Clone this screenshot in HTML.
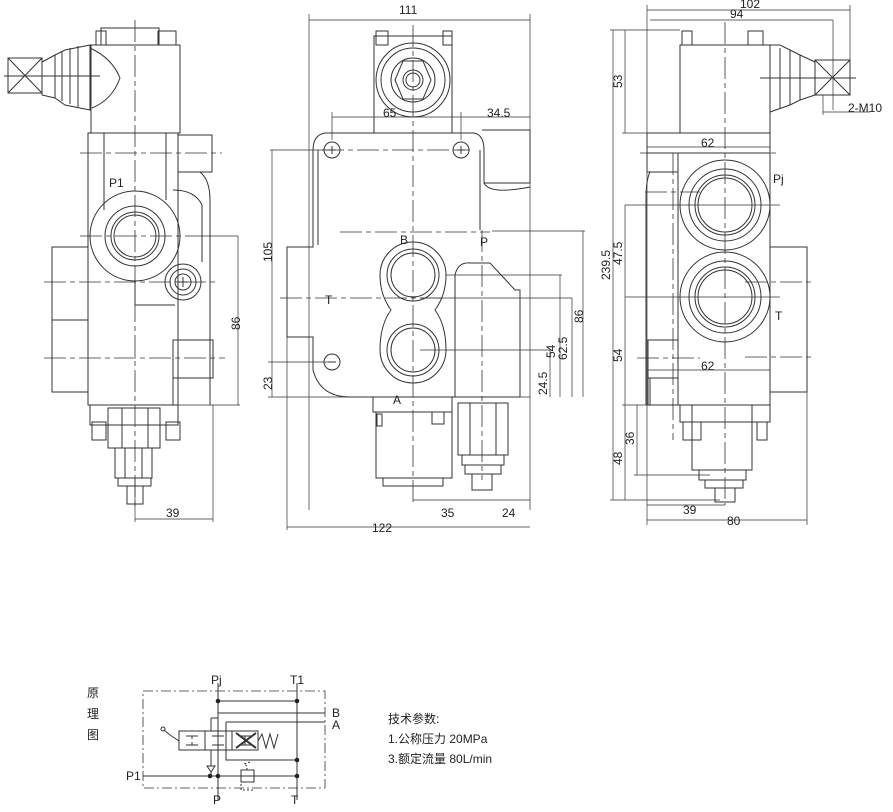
<!DOCTYPE html>
<html><head><meta charset="utf-8"><style>
html,body{margin:0;padding:0;background:#fff}
svg{display:block}
text{font-family:"Liberation Sans","Noto Sans CJK SC",sans-serif;fill:#222}
</style></head><body>
<svg width="893" height="812" viewBox="0 0 893 812" xmlns="http://www.w3.org/2000/svg">
<g fill="none" stroke="#333" stroke-width="1">
<!-- LEFT VIEW -->
<rect x="96" y="31" width="10" height="14"/><rect x="158" y="31" width="18" height="14"/>
<rect x="101" y="28" width="58" height="17"/>
<rect x="91" y="45" width="89" height="88"/>
<path d="M90 48 Q112 58 120 78 Q112 100 92 108"/>
<path d="M42 62 L55 55 L65 50 L90 45 L90 110 L65 105 L55 98 L42 95 Z"/>
<path d="M55 55 L55 98 M62 52 L62 101 M70 48 L70 104 M78 46 L78 107"/>
<rect x="8" y="58" width="34" height="35"/>
<path d="M8 58 L42 93 M42 58 L8 93 M4 76 L100 76"/>
<rect x="88" y="133" width="90" height="272"/>
<path d="M104 133 V210 M166 133 V200"/>
<path d="M178 135 H212 V172 H178"/>
<path d="M182 172 H200 Q210 180 210 200 V405"/>
<path d="M173 190 Q195 190 202 205 V262"/>
<circle cx="135" cy="236" r="45"/>
<circle cx="135" cy="236" r="30"/><circle cx="135" cy="236" r="24"/><circle cx="135" cy="236" r="21"/>
<path d="M135 281 V305 H175"/>
<circle cx="183" cy="282" r="18"/><circle cx="183" cy="282" r="13"/><circle cx="183" cy="282" r="8"/>
<path d="M178 282 H188 M183 277 V287"/>
<rect x="52" y="247" width="36" height="145"/><path d="M52 320 H88"/>
<rect x="173" y="340" width="40" height="38"/><path d="M173 378 V405 M210 378 V405"/>
<rect x="90" y="405" width="88" height="20"/>
<rect x="92" y="422" width="14" height="18"/><rect x="166" y="422" width="14" height="18"/>
<rect x="108" y="408" width="52" height="40"/><path d="M122 408 V448 M148 408 V448"/>
<rect x="115" y="448" width="37" height="30"/><path d="M125 448 V478 M142 448 V478"/>
<rect x="118" y="478" width="33" height="8"/>
<rect x="127" y="486" width="16" height="18"/>
<!-- centre lines left -->
<g stroke-dasharray="22,4,5,4" stroke-width="0.8">
<path d="M135 20 V510"/><path d="M80 153 H222"/><path d="M80 236 H190"/><path d="M44 282 H215"/><path d="M44 358 H225"/>
</g>
<!-- dims left -->
<g stroke-width="0.7"><path d="M190 236 H238 M238 236 V405 M178 405 H240 M213 405 V522 M135 519 H213 M135 478 V522"/></g>

<!-- MIDDLE VIEW -->
<rect x="376" y="31" width="12" height="14"/><rect x="443" y="31" width="9" height="14"/>
<rect x="374" y="36" width="78" height="97"/>
<circle cx="413" cy="80" r="37"/><circle cx="413" cy="80" r="32"/><circle cx="413" cy="80" r="22"/>
<path d="M403 61 H423 L431 80 L423 99 H403 L395 80 Z"/>
<circle cx="413" cy="80" r="10"/><circle cx="413" cy="80" r="7"/>
<path d="M325 133 H474 Q484 135 484 150 V183 H530 V130 H482"/>
<path d="M484 183 Q490 195 530 187"/>
<path d="M325 133 Q313 135 313 150 V247 H287 V337 H313 V370 Q320 397 350 397 H520"/>
<path d="M318 150 V245 M480 150 V230"/>
<path d="M455 397 V275 Q458 262 470 263 H490 L515 290 H520 V397"/>
<circle cx="332" cy="150" r="8"/><circle cx="461" cy="150" r="8"/><circle cx="332" cy="362" r="8"/>
<path d="M328 150 H336 M332 146 V154 M457 150 H465 M461 146 V154 M328 362 H336"/>
<path d="M380 275 A33 33 0 0 1 446 275 Q446 295 435 310 Q446 325 446 350 A33 33 0 0 1 380 350 Q380 325 391 310 Q380 295 380 275 Z"/>
<circle cx="413" cy="275" r="26"/><circle cx="413" cy="275" r="22"/>
<circle cx="413" cy="350" r="26"/><circle cx="413" cy="350" r="22"/>
<rect x="373" y="397" width="79" height="15"/>
<rect x="376" y="412" width="76" height="66"/><rect x="383" y="478" width="60" height="8"/>
<rect x="432" y="412" width="12" height="12"/><rect x="377" y="414" width="5" height="12"/>
<rect x="458" y="403" width="50" height="52"/><path d="M470 403 V455 M496 403 V455"/>
<rect x="462" y="455" width="42" height="10"/><rect x="465" y="465" width="36" height="9"/>
<rect x="472" y="474" width="20" height="16"/>
<g stroke-dasharray="22,4,5,4" stroke-width="0.8">
<path d="M413 25 V505"/><path d="M322 150 H470"/><path d="M340 232 H490"/><path d="M280 298 H445"/><path d="M482 230 V480"/>
</g>
<g stroke-width="0.7">
<path d="M309 14 V510 M530 14 V510 M309 20 H530 M332 112 V140 M461 112 V140 M332 117 H530 M287 337 V530 M287 527 H530 M413 500 H530"/>
<path d="M270 150 H330 M272 150 V397 M268 362 H330 M268 397 H530"/>
<path d="M446 275 H562 M420 298 H572 M560 275 V397 M572 298 V397 M492 231 H585 M583 231 V397 M420 350 H552 M550 350 V397"/>
</g>

<!-- RIGHT VIEW -->
<rect x="682" y="31" width="10" height="14"/><rect x="748" y="31" width="15" height="14"/>
<rect x="680" y="45" width="90" height="88"/>
<path d="M770 45 H780 L790 50 L800 55 L815 62 L815 95 L800 100 L790 105 L770 112 Z"/>
<path d="M780 48 V108 M790 50 V105 M800 55 V100"/>
<rect x="815" y="60" width="35" height="35"/>
<path d="M815 60 L850 95 M850 60 L815 95 M760 78 H856"/>
<rect x="647" y="133" width="123" height="20"/>
<path d="M647 153 V172 H678 M650 172 Q646 180 646 200 V405"/>
<rect x="678" y="153" width="92" height="252"/>
<circle cx="725" cy="205" r="45"/><circle cx="725" cy="205" r="36"/><circle cx="725" cy="205" r="30"/><circle cx="725" cy="205" r="27"/>
<circle cx="725" cy="297" r="45"/><circle cx="725" cy="297" r="36"/><circle cx="725" cy="297" r="30"/><circle cx="725" cy="297" r="27"/>
<rect x="770" y="247" width="37" height="145"/>
<rect x="648" y="340" width="30" height="65"/><path d="M648 378 H678 M650 378 V405"/>
<rect x="680" y="405" width="90" height="17"/>
<rect x="683" y="422" width="18" height="18"/><rect x="757" y="422" width="10" height="18"/>
<rect x="692" y="405" width="60" height="65"/>
<rect x="699" y="470" width="47" height="10"/><rect x="705" y="480" width="38" height="8"/>
<rect x="715" y="488" width="20" height="14"/>
<g stroke-dasharray="22,4,5,4" stroke-width="0.8">
<path d="M725 22 V505"/><path d="M640 153 H780"/><path d="M645 192 H700"/><path d="M745 282 H815"/><path d="M745 357 H815"/><path d="M637 358 H700"/><path d="M673 153 V440"/>
</g>
<g stroke-width="0.7">
<path d="M647 5 V525 M850 5 V60 M647 10 H850 M833 20 V110 M650 20 H833 M613 30 V500 M610 30 H680 M625 30 V133 M622 133 H680 M625 205 H780 M625 297 H780 M625 205 V500 M622 405 H690 M637 405 V475 M634 475 H710 M610 500 H720 M647 147 H770 M647 370 H770 M647 505 H725 M647 520 H807 M807 392 V525 M823 95 V115 M823 112 H870"/>
</g>

<!-- SCHEMATIC -->
<rect x="143" y="691" width="182" height="97" stroke-dasharray="10,3,2,3" stroke-width="0.8"/>
<path d="M218 683 V800 M297 683 V800"/>
<path d="M218 701 H297 M218 713 H325 M226 722 H325 M226 722 V760 H297 M143 776 H297"/>
<path d="M211 718 H218 M211 718 V731 M211 750 V766 M207 766 L211 772 L215 766 Z M211 772 V776"/>
<rect x="179" y="731" width="79" height="19"/><path d="M205 731 V750 M232 731 V750"/>
<path d="M186 736 H198 M192 736 V739 M186 745 H198 M192 745 V742 M212 736 H224 M218 736 V739 M212 745 H224 M218 745 V742 M239 736 H251 M245 736 V739 M239 745 H251 M245 745 V742"/>
<path d="M236 733 L256 748 M256 733 L236 748" stroke-width="2"/>
<path d="M258 741 L262 734 L266 748 L270 734 L274 748 L278 734"/>
<path d="M179 741 L170 735 L164 730"/><circle cx="163" cy="729" r="2"/>
<rect x="241" y="770" width="13" height="12"/><path d="M247 770 V766 L244 764 L250 762 M241 784 V790 H254" stroke-dasharray="2,2"/>
</g>
<g fill="#222">
<circle cx="218" cy="701" r="2.3"/><circle cx="297" cy="701" r="2.3"/><circle cx="297" cy="760" r="2.3"/>
<circle cx="210" cy="776" r="2.3"/><circle cx="218" cy="776" r="2.3"/><circle cx="297" cy="776" r="2.3"/>
</g>

<!-- TEXT -->
<g font-size="12">
<text x="109" y="187">P1</text>
<text x="400" y="244">B</text>
<text x="480" y="246">P</text>
<text x="325" y="304">T</text>
<text x="393" y="404">A</text>
<text x="773" y="183">Pj</text>
<text x="775" y="320">T</text>
<text x="399" y="14">111</text>
<text x="383" y="117">65</text>
<text x="487" y="117">34.5</text>
<text x="372" y="532">122</text>
<text x="441" y="517">35</text>
<text x="502" y="517">24</text>
<text x="166" y="517">39</text>
<text x="740" y="8">102</text>
<text x="730" y="18">94</text>
<text x="701" y="147">62</text>
<text x="701" y="370">62</text>
<text x="683" y="514">39</text>
<text x="727" y="525">80</text>
<text x="848" y="112">2-M10</text>
<text transform="translate(240 330) rotate(-90)">86</text>
<text transform="translate(272 262) rotate(-90)">105</text>
<text transform="translate(272 390) rotate(-90)">23</text>
<text transform="translate(555 358) rotate(-90)">54</text>
<text transform="translate(567 360) rotate(-90)">62.5</text>
<text transform="translate(583 323) rotate(-90)">86</text>
<text transform="translate(547 395) rotate(-90)">24.5</text>
<text transform="translate(610 280) rotate(-90)">239.5</text>
<text transform="translate(622 88) rotate(-90)">53</text>
<text transform="translate(622 265) rotate(-90)">47.5</text>
<text transform="translate(622 362) rotate(-90)">54</text>
<text transform="translate(622 465) rotate(-90)">48</text>
<text transform="translate(634 445) rotate(-90)">36</text>
<text x="211" y="684">Pj</text>
<text x="290" y="684">T1</text>
<text x="332" y="717">B</text>
<text x="332" y="729">A</text>
<text x="213" y="804">P</text>
<text x="291" y="804">T</text>
<text x="126" y="780">P1</text>
<text x="87" y="697">原</text>
<text x="87" y="718">理</text>
<text x="87" y="739">图</text>
<text x="388" y="723">技术参数:</text>
<text x="388" y="743">1.公称压力  20MPa</text>
<text x="388" y="763">3.额定流量  80L/min</text>
</g>
</svg>
</body></html>
